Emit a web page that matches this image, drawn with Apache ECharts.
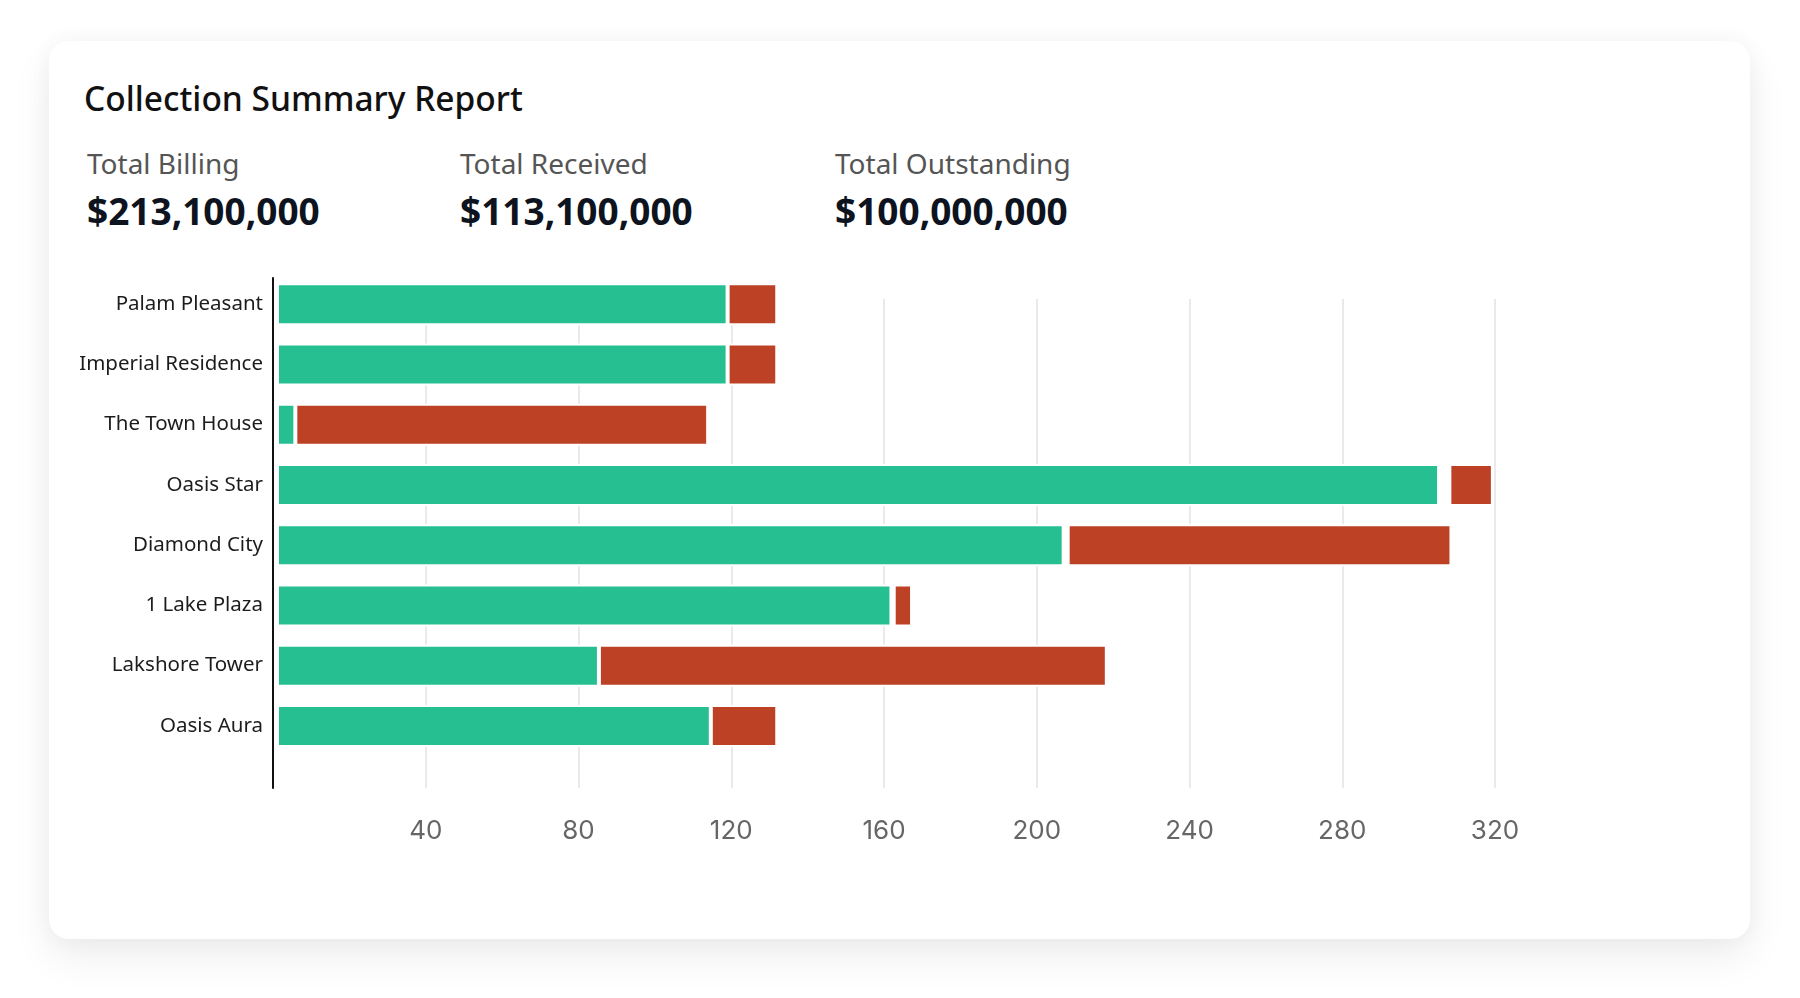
<!DOCTYPE html>
<html>
<head>
<meta charset="utf-8">
<title>Collection Summary Report</title>
<script src="https://cdn.jsdelivr.net/npm/echarts/dist/echarts.min.js"></script>
<style>
    html, body {
        margin: 0;
        padding: 0;
        width: 1800px;
        height: 998px;
        background: #fff;
        overflow: hidden;
        font-family: "Noto Sans", "Open Sans", sans-serif;
    }
    .card {
        position: absolute;
        left: 49px;
        top: 41px;
        width: 1701px;
        height: 898px;
        background: #fff;
        border-radius: 20px;
        box-shadow: 0 18px 40px rgba(0, 0, 0, 0.07), 0 0 24px rgba(0, 0, 0, 0.04);
    }
    .title {
        position: absolute;
        left: 84px;
        top: 81px;
        font-size: 33.5px;
        line-height: 34px;
        font-weight: 500;
        color: #111;
        white-space: nowrap;
    }
    .stat {
        position: absolute;
        top: 149px;
        white-space: nowrap;
    }
    .stat .label {
        font-size: 28px;
        line-height: 28px;
        color: #555;
    }
    .stat .value {
        margin-top: 15px;
        font-size: 37px;
        line-height: 37px;
        font-weight: 700;
        color: #0e1320;
    }
    #chart {
        position: absolute;
        left: 0;
        top: 0;
        width: 1800px;
        height: 998px;
    }
</style>
</head>
<body>
<div class="card"></div>
<div class="title">Collection Summary Report</div>
<div class="stat" style="left:87px"><div class="label">Total Billing</div><div class="value">$213,100,000</div></div>
<div class="stat" style="left:460px"><div class="label">Total Received</div><div class="value">$113,100,000</div></div>
<div class="stat" style="left:835px"><div class="label">Total Outstanding</div><div class="value">$100,000,000</div></div>
<div id="chart"></div>

<script>
// projects, top to bottom
var categories = ['Palam Pleasant', 'Imperial Residence', 'The Town House', 'Oasis Star',
    'Diamond City', '1 Lake Plaza', 'Lakshore Tower', 'Oasis Aura'];
// amount received (green)
var received = [118, 118, 4.8, 304.3, 206, 160.9, 84.3, 113.6];
// small empty gap some rows show between the two parts
var spacer = [0, 0, 0, 2.7, 1.05, 0.6, 0, 0];
// amount outstanding (red)
var outstanding = [13, 13, 108.1, 11.4, 100.5, 4.8, 133, 17.4];
// x axis
var axisMin = 0;
var axisMax = 320;
var axisStep = 40;

var myChart = echarts.init(document.getElementById('chart'), null, { renderer: 'canvas' });

var barStyle = function (color) {
    return { color: color, borderColor: '#fff', borderWidth: 2 };
};

var option = {
    animation: false,
    backgroundColor: 'transparent',
    textStyle: { fontFamily: 'Noto Sans' },
    grid: [
        // bars
        { left: 277, top: 274, width: 1222, height: 482 },
        // vertical grid lines + x labels
        { left: 273, top: 299, width: 1222, height: 489 },
        // the black y axis line
        { left: 273, top: 278, width: 10, height: 510 }
    ],
    xAxis: [
        { gridIndex: 0, type: 'value', min: axisMin, max: axisMax, interval: axisStep, show: false },
        {
            gridIndex: 1, type: 'value', min: axisMin, max: axisMax, interval: axisStep,
            axisLine: { show: false },
            axisTick: { show: false },
            splitLine: { show: true, lineStyle: { color: '#e3e3e3', width: 1.5 } },
            axisLabel: {
                showMinLabel: false,
                margin: 30,
                fontFamily: 'Inter',
                fontSize: 26,
                color: '#666'
            }
        },
        { gridIndex: 2, type: 'value', show: false }
    ],
    yAxis: [
        {
            gridIndex: 0, type: 'category', data: categories, inverse: true,
            axisLine: { show: false },
            axisTick: { show: false },
            axisLabel: {
                margin: 14, fontSize: 20.5, color: '#1c1c1c', fontFamily: 'Noto Sans',
                padding: [8, 0, 0, 0]
            }
        },
        { gridIndex: 1, type: 'category', data: categories, show: false },
        {
            gridIndex: 2, type: 'value',
            axisLine: { show: true, onZero: false, lineStyle: { color: '#111', width: 2 } },
            axisTick: { show: false },
            axisLabel: { show: false },
            splitLine: { show: false }
        }
    ],
    series: [
        {
            name: 'Received', type: 'bar', stack: 'total', xAxisIndex: 0, yAxisIndex: 0,
            barWidth: 42, data: received, itemStyle: barStyle('#26bf92'), silent: true
        },
        {
            name: 'Gap', type: 'bar', stack: 'total', xAxisIndex: 0, yAxisIndex: 0,
            barWidth: 42, data: spacer, itemStyle: { color: 'rgba(0,0,0,0)' }, silent: true
        },
        {
            name: 'Outstanding', type: 'bar', stack: 'total', xAxisIndex: 0, yAxisIndex: 0,
            barWidth: 42, data: outstanding, itemStyle: barStyle('#bd4125'), silent: true
        }
    ]
};
myChart.setOption(option);
</script>
</body>
</html>
